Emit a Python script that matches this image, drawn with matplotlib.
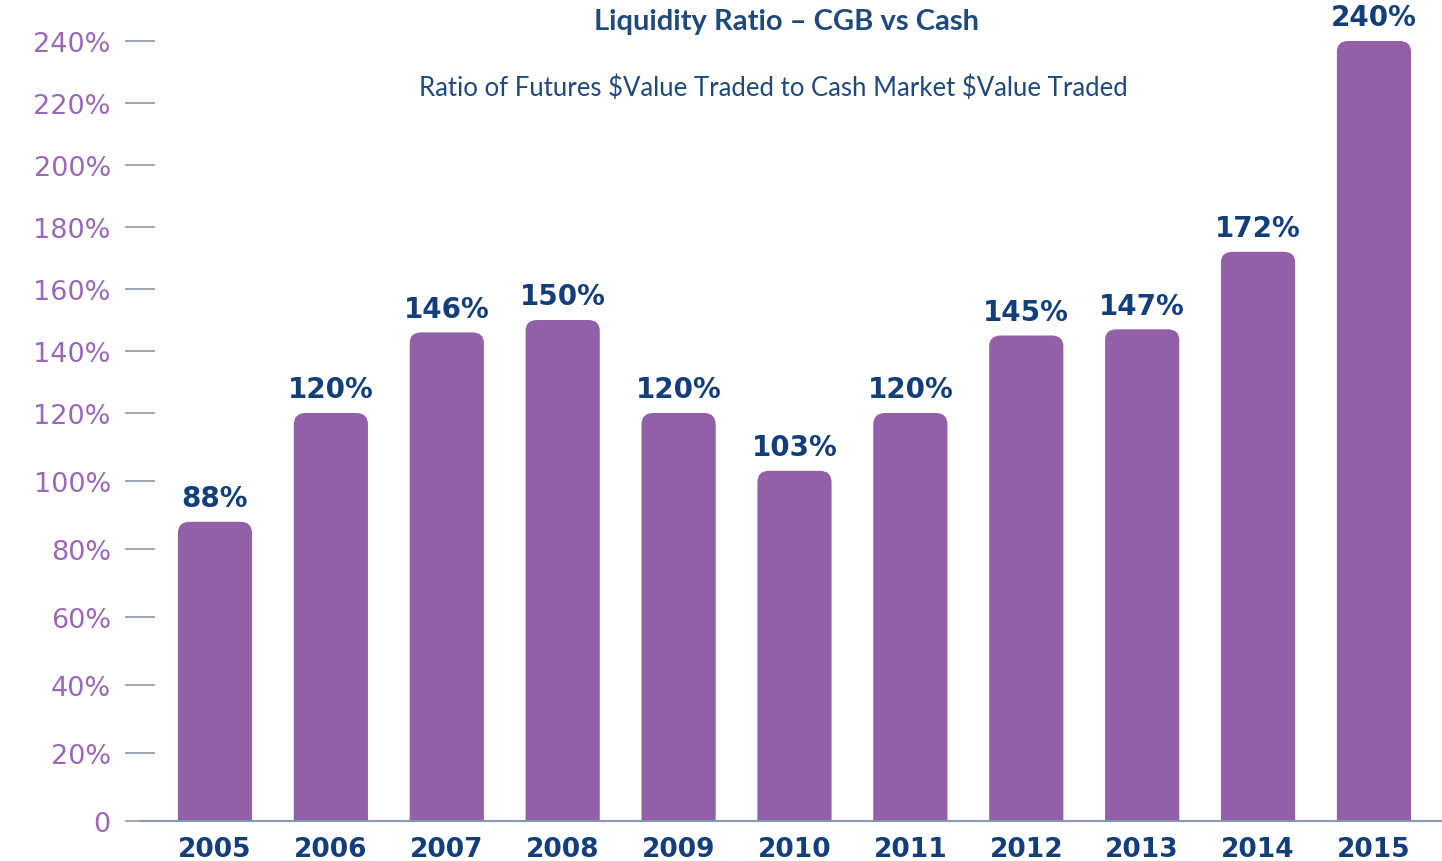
import numpy as np
import matplotlib.pyplot as plt
from matplotlib.patches import FancyBboxPatch

years = ['2005', '2006', '2007', '2008', '2009', '2010', '2011', '2012', '2013', '2014', '2015']
ratio = [88, 120, 146, 150, 120, 103, 120, 145, 147, 172, 240]
yticks = [0, 20, 40, 60, 80, 100, 120, 140, 160, 180, 200, 220, 240]
ytick_labels = ['0'] + ['%d%%' % t for t in yticks[1:]]

bar_col = '#9360a8'
tick_col = '#9b68b8'
navy = '#123f7c'

# the original axis is a bit squeezed above 120%
def fwd(v):
    v = np.asarray(v, dtype=float)
    return np.where(v <= 120, v, 120 + (v - 120) * 3.1 / 3.4)

def inv(v):
    v = np.asarray(v, dtype=float)
    return np.where(v <= 120, v, 120 + (v - 120) * 3.4 / 3.1)

fig = plt.figure(figsize=(14.42, 8.62), dpi=100)
ax = fig.add_axes([140 / 1442, 40 / 862, 1 - 140 / 1442, 811 / 862])
ax.set_yscale('function', functions=(fwd, inv))

x = np.arange(len(years))
bars = ax.bar(x, ratio, width=0.64, color=bar_col)
for r in bars:
    x0, w, h = r.get_x(), r.get_width(), r.get_height()
    fb = FancyBboxPatch((x0, -20), w, h + 20, boxstyle='round,pad=0,rounding_size=0.1',
                        mutation_aspect=34, facecolor=bar_col, edgecolor='none')
    ax.add_patch(fb)
    r.set_visible(False)

for xi, v in zip(x, ratio):
    ax.annotate('%d%%' % v, (xi, v), xytext=(0, 7), textcoords='offset points',
                ha='center', va='bottom', fontsize=20, fontweight='bold', color=navy)

ax.set_xlim(-0.647, 10.587)
ax.set_ylim(0, 250)
ax.set_xticks(x)
ax.set_xticklabels(years, fontsize=19, fontweight='bold', color=navy)
ax.set_yticks(yticks)
ax.set_yticklabels(ytick_labels, fontsize=19.5, color=tick_col)
ax.tick_params(axis='x', length=0, pad=11)
ax.tick_params(axis='y', direction='inout', length=22, width=1.2, color='#8c9aa6', pad=10)

for s in ['left', 'right', 'top']:
    ax.spines[s].set_visible(False)
ax.spines['bottom'].set_color('#8796a8')
ax.spines['bottom'].set_linewidth(1.5)

fig.text(787 / 1442, 1 - 22 / 862, 'Liquidity Ratio \u2013 CGB vs Cash', ha='center', va='center',
         fontsize=21, fontweight='bold', family='Lato', color='#1f497d')
fig.text(773 / 1442, 1 - 88 / 862, r'Ratio of Futures \$Value Traded to Cash Market \$Value Traded',
         ha='center', va='center', fontsize=18.5, family='Lato', color='#1f497d')

fig.savefig('out.png', dpi=100)
